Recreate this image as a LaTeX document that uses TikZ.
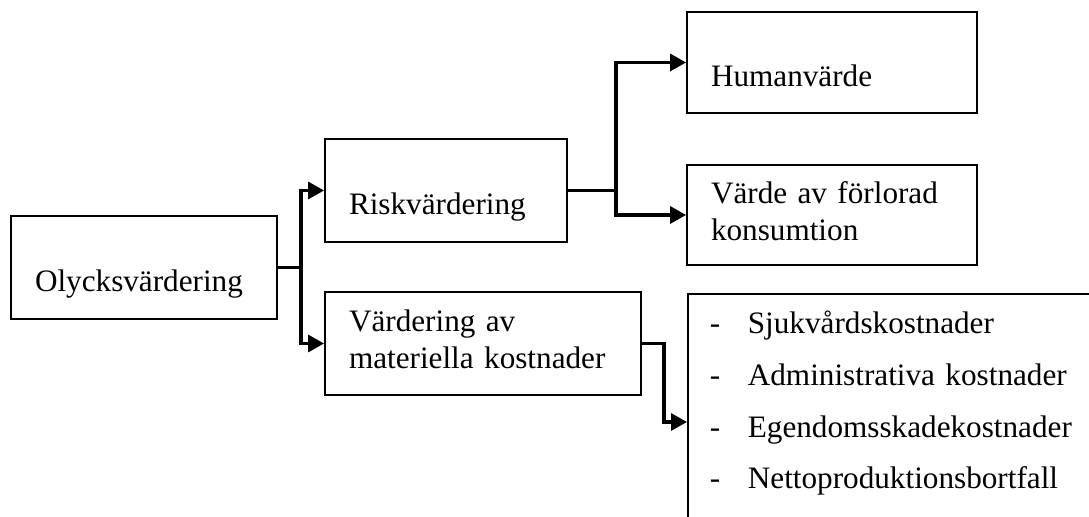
\documentclass[tikz,border=0pt]{standalone}
\usepackage{fontspec}
\setmainfont{Liberation Serif}
\usetikzlibrary{arrows.meta}
\newcommand{\diagfont}{\fontsize{15.6}{18.5}\selectfont}

\begin{document}
\begin{tikzpicture}[x=0.5pt,y=-0.5pt,
  box/.style={draw, line width=0.9pt, inner sep=0pt, minimum height=51.5pt,
    text width=#1, align=left, font=\diagfont,
    execute at begin node={\leftskip=12pt\rightskip=-12pt plus 1fil}},
  onerow/.style={text height=24.5pt, text depth=0pt},
  tworow/.style={text height=9pt, text depth=20.5pt},
  conn/.style={line width=1.6pt},
  arr/.style={conn, -{Triangle[length=8pt,width=8.5pt]}}]
  \useasboundingbox (0,0) rectangle (1089,517);
  \clip (0,0) rectangle (1089,517);
  % boxes
  \node[box=133pt, onerow] (olyck) at (144,267.5) {Olycksvärdering};
  \node[box=121pt, onerow] (risk) at (446,190.5) {Riskvärdering};
  \node[box=158pt, tworow] (mat) at (483,343.5) {Värdering av\\materiella kostnader};
  \node[box=145pt, onerow, minimum height=50.5pt] (human) at (832,62.5) {Humanvärde};
  \node[box=145pt, tworow, minimum height=50pt] (cons) at (832,215) {Värde av förlorad\\konsumtion};
  \node[box=211pt, anchor=north west, text height=20pt, text depth=110pt,
    font=\fontsize{15.6}{25.8}\selectfont,
    execute at begin node={\leftskip=11pt}] (list) at (687,293)
    {\makebox[19pt][l]{-}Sjukvårdskostnader\\
     \makebox[19pt][l]{-}Administrativa kostnader\\
     \makebox[19pt][l]{-}Egendomsskadekostnader\\
     \makebox[19pt][l]{-}Nettoproduktionsbortfall};
  % connectors
  \draw[conn] (olyck.east) -- ++(23,0) coordinate (jo);
  \draw[arr] (jo) |- (risk.west);
  \draw[arr] (jo) |- (mat.west);
  \draw[conn] (risk.east) -- ++(48,0) coordinate (jr);
  \draw[arr] (jr) |- (human.west);
  \draw[arr] (jr) |- (cons.west);
  \draw[arr] (mat.east) -- ++(22,0) |- ([yshift=-64.5pt]list.north west);
\end{tikzpicture}
\end{document}
